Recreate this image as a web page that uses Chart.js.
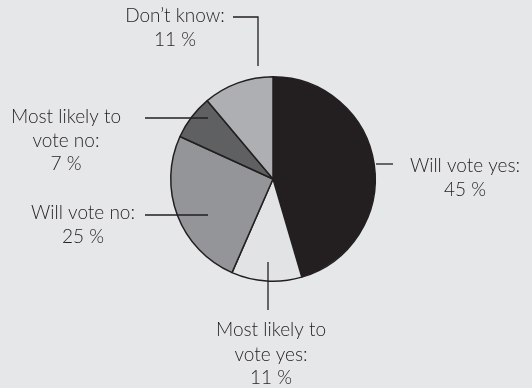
<!DOCTYPE html>
<html lang="en">
<head>
    <meta charset="UTF-8">
    <title>Vote intentions</title>
    <script src="https://cdn.jsdelivr.net/npm/chart.js"></script>
    <style>
        html, body { margin: 0; padding: 0; background: #e6e7e8; }
        #wrap { width: 532px; height: 388px; }
    </style>
</head>
<body>
    <div id="wrap"><canvas id="pieChart"></canvas></div>

<script>
    // dados do gráfico (sentido horário a partir do topo)
    var categorias = ['Will vote yes', 'Most likely to vote yes', 'Will vote no', 'Most likely to vote no', "Don't know"];
    var valores = [45, 11, 25, 7, 11];
    var rotulos = [
        ['Will vote yes:', '45 %'],
        ['Most likely to', 'vote yes:', '11 %'],
        ['Will vote no:', '25 %'],
        ['Most likely to', 'vote no:', '7 %'],
        ['Don\u2019t know:', '11 %']
    ];
    var cores = ['#231f20', '#e2e3e4', '#939598', '#5f6062', '#aeafb2'];

    // posição dos rótulos e linhas, relativa ao centro da pizza
    var layoutRotulos = [
        { tx: 192, ty: [-13, 11], linha: [[103, -15], [120, -15]] },
        { tx: -2, ty: [151, 176, 199], linha: [[-5, 83], [-5, 131]] },
        { tx: -190, ty: [34, 58], linha: [[-128, 36], [-65, 36]] },
        { tx: -207, ty: [-62, -38, -15], linha: [[-128, -61], [-65, -61]] },
        { tx: -98, ty: [-163, -139], linha: [[-40, -162], [-15, -162], [-15, -113]] }
    ];

    const pluginRotulos = {
        id: 'rotulos',
        afterDraw(chart) {
            const ctx = chart.ctx;
            const arco = chart.getDatasetMeta(0).data[0];
            const cx = arco.x, cy = arco.y;
            ctx.save();
            ctx.strokeStyle = '#231f20';
            ctx.lineWidth = 1.3;
            ctx.fillStyle = '#231f20';
            ctx.font = '300 19px Lato';
            ctx.textAlign = 'center';
            ctx.textBaseline = 'middle';
            for (let i = 0; i < rotulos.length; i++) {
                const l = layoutRotulos[i];
                ctx.beginPath();
                ctx.moveTo(cx + l.linha[0][0], cy + l.linha[0][1]);
                for (let j = 1; j < l.linha.length; j++) {
                    ctx.lineTo(cx + l.linha[j][0], cy + l.linha[j][1]);
                }
                ctx.stroke();
                for (let k = 0; k < rotulos[i].length; k++) {
                    ctx.fillText(rotulos[i][k], cx + l.tx, cy + l.ty[k]);
                }
            }
            ctx.restore();
        }
    };

    const dados = {
        labels: categorias,
        datasets: [{
            data: valores,
            backgroundColor: cores,
            borderColor: '#231f20',
            borderWidth: 1.5
        }]
    };

    const config = {
        type: 'pie',
        data: dados,
        options: {
            responsive: true,
            maintainAspectRatio: false,
            animation: false,
            layout: { padding: { left: 102, right: 88, top: 76, bottom: 106 } },
            plugins: {
                legend: { display: false },
                tooltip: { enabled: false }
            }
        },
        plugins: [pluginRotulos]
    };

    const myChart = new Chart(document.getElementById('pieChart'), config);
</script>
</body>
</html>
